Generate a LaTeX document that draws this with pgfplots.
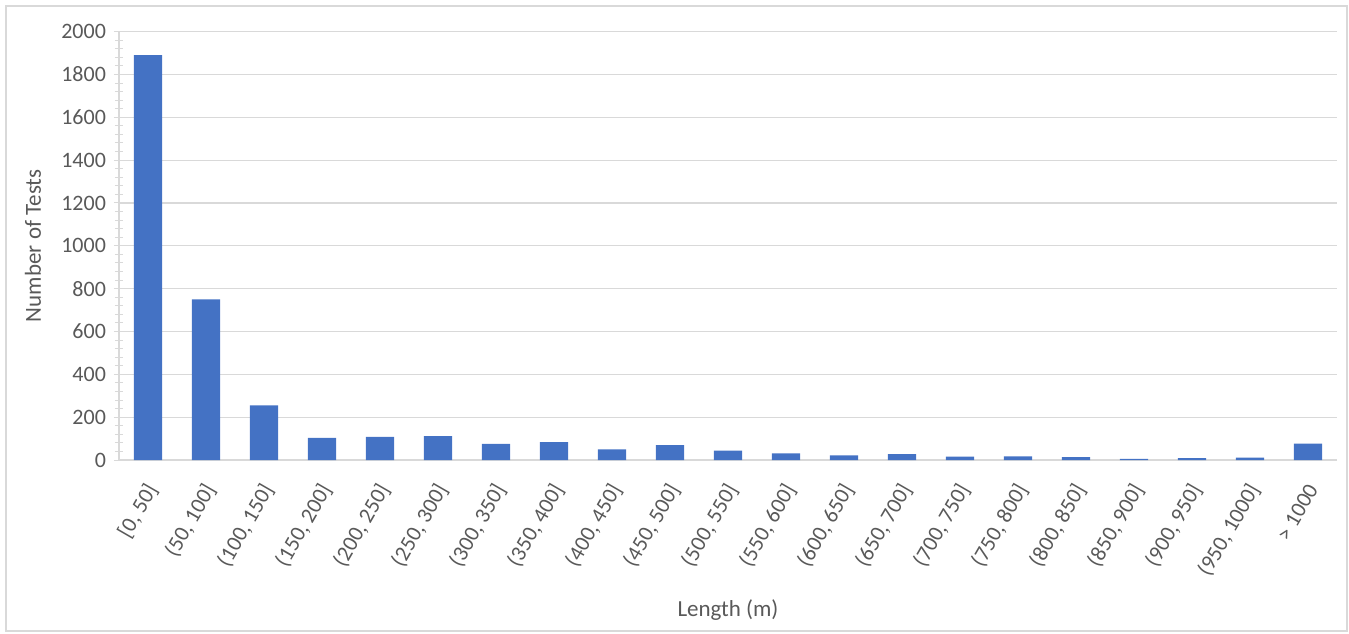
\documentclass[border=0pt]{standalone}
\usepackage{fontspec}
\setmainfont{Carlito}
\usepackage{pgfplots}
\pgfplotsset{compat=1.18}
\definecolor{barblue}{HTML}{4472C4}
\definecolor{gridgray}{HTML}{D9D9D9}
\definecolor{textgray}{HTML}{595959}
\begin{document}
\begin{tikzpicture}
\begin{axis}[
  at={(0,0)}, anchor=south west,
  scale only axis,
  width=609pt, height=214.2pt,
  xmin=-0.5, xmax=20.5,
  ymin=0, ymax=2000,
  ytick={0,200,...,2000},
  minor y tick num=4,
  ymajorgrids,
  major grid style={gridgray, line width=0.6pt},
  axis x line*=bottom, axis y line*=left,
  axis line style={gridgray, line width=0.6pt},
  tick style={gridgray, line width=0.5pt},
  tick align=center,
  major tick length=5pt, minor tick length=4pt,
  xtick=data,
  xtick style={draw=none},
  xticklabels={{[0, 50]},{(50, 100]},{(100, 150]},{(150, 200]},{(200, 250]},{(250, 300]},{(300, 350]},{(350, 400]},{(400, 450]},{(450, 500]},{(500, 550]},{(550, 600]},{(600, 650]},{(650, 700]},{(700, 750]},{(750, 800]},{(800, 850]},{(850, 900]},{(900, 950]},{(950, 1000]},{> 1000}},
  xticklabel style={xshift=4pt, yshift=-5pt, rotate=60, anchor=east, font=\fontsize{11}{13}\selectfont, text=textgray},
  yticklabel style={font=\fontsize{11}{13}\selectfont, text=textgray, xshift=-0.5pt},
  /pgf/number format/assume math mode=true,
  /pgf/number format/1000 sep={},
  xlabel={Length (m)},
  ylabel={Number of Tests},
  xlabel style={at={(rel axis cs:0.5,0)}, anchor=center, yshift=-75pt, font=\fontsize{11.5}{13}\selectfont, text=textgray},
  ylabel style={at={(rel axis cs:0,0.5)}, anchor=center, yshift=43pt, font=\fontsize{11.5}{13}\selectfont, text=textgray},
  ybar, bar width=14.2pt,
]
\addplot[fill=barblue, draw=none] coordinates {
  (0,1890) (1,750) (2,255) (3,103) (4,108) (5,112) (6,75) (7,83)
  (8,50) (9,69) (10,44) (11,31) (12,22) (13,28) (14,16) (15,17)
  (16,14) (17,5) (18,9) (19,11) (20,76)
};
\end{axis}
\draw[gridgray, line width=0.6pt] (-56.5pt,-85.5pt) rectangle (614pt,227pt);
\pgfresetboundingbox
\path (-59.5pt,-86.5pt) rectangle (615pt,230pt);
\end{tikzpicture}
\end{document}
